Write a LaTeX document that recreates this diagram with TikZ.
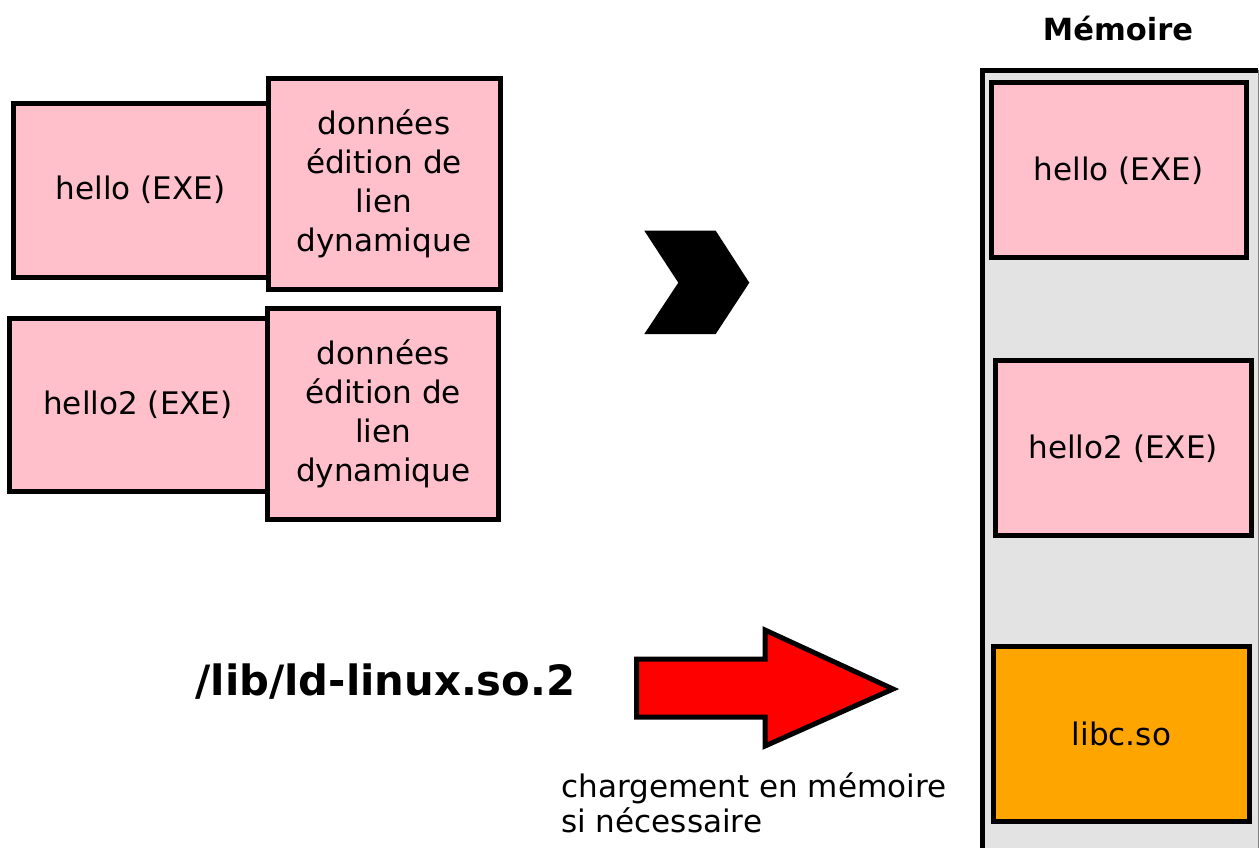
\documentclass[tikz,border=0pt]{standalone}
\usepackage{fontspec}
\setmainfont{DejaVu Sans}
\definecolor{boxpink}{HTML}{FFC0CB}
\definecolor{memgray}{HTML}{E3E3E3}
\definecolor{liborange}{HTML}{FFA500}
\definecolor{arrowred}{HTML}{FF0000}
\begin{document}
\begin{tikzpicture}[x=0.75pt,y=-0.75pt,
  box/.style={draw=black, line width=3.75pt, fill=boxpink, inner sep=0pt, align=center,
    font=\fontsize{23.3}{29.25}\selectfont},
  membox/.style={box},
  libbox/.style={box, fill=liborange}]
\useasboundingbox (0,0) rectangle (1259,847);
% left: executables
\node[box, minimum width=191.25pt, minimum height=130.5pt] (hello) at (140.5,190) {hello (EXE)};
\node[box, minimum width=174pt, minimum height=158.25pt] (data1) at (384,183.5) {données\\édition de\\lien\\dynamique};
\node[box, minimum width=193.5pt, minimum height=130.1pt] (hello2) at (138,404.75) {hello2 (EXE)};
\node[box, minimum width=173.6pt, minimum height=158.25pt] (data2) at (383.25,413.5) {données\\édition de\\lien\\dynamique};
% chevron
\fill[black] (644.3,230.7) -- (715.7,230.7) -- (749.3,282.7) -- (715.7,334) -- (644.3,334) -- (678.3,282.7) -- cycle;
% memory column
\node[fill=memgray, minimum width=207pt, minimum height=600pt, inner sep=0pt, outer sep=0pt] (mem) at (1120,470) {};
\draw[line width=3.75pt, line join=miter] (mem.south west) -- (mem.north west) -- (mem.north east);
\draw[line width=0.6pt, draw=gray] (mem.north east) -- (mem.south east);
\node[font=\bfseries\fontsize{22.9}{27}\selectfont, anchor=base] (memtitle) at (1118,40) {Mémoire};
\node[membox, minimum width=191.6pt, minimum height=130.9pt] (mhello) at (1118.75,170.25) {hello (EXE)};
\node[membox, minimum width=191.6pt, minimum height=130.9pt] (mhello2) at (1123.25,448.25) {hello2 (EXE)};
\node[libbox, minimum width=192pt, minimum height=130.9pt] (libc) at (1121.4,734.25) {libc.so};
% loader
\node[font=\bfseries\fontsize{31.3}{36}\selectfont, anchor=base] (ld) at (385.5,695) {/lib/ld-linux.so.2};
\draw[draw=black, fill=arrowred, line width=3.75pt, line join=miter]
  (636.7,659) -- (765,659) -- (765,630) -- (893,689) -- (765,746) -- (765,717) -- (636.7,717) -- cycle;
\node[font=\fontsize{23.3}{27.5}\selectfont, align=left, anchor=base west, inner sep=0pt] (note) at (561,832.7) {chargement en mémoire\\[-1pt]si nécessaire};
\end{tikzpicture}
\end{document}
